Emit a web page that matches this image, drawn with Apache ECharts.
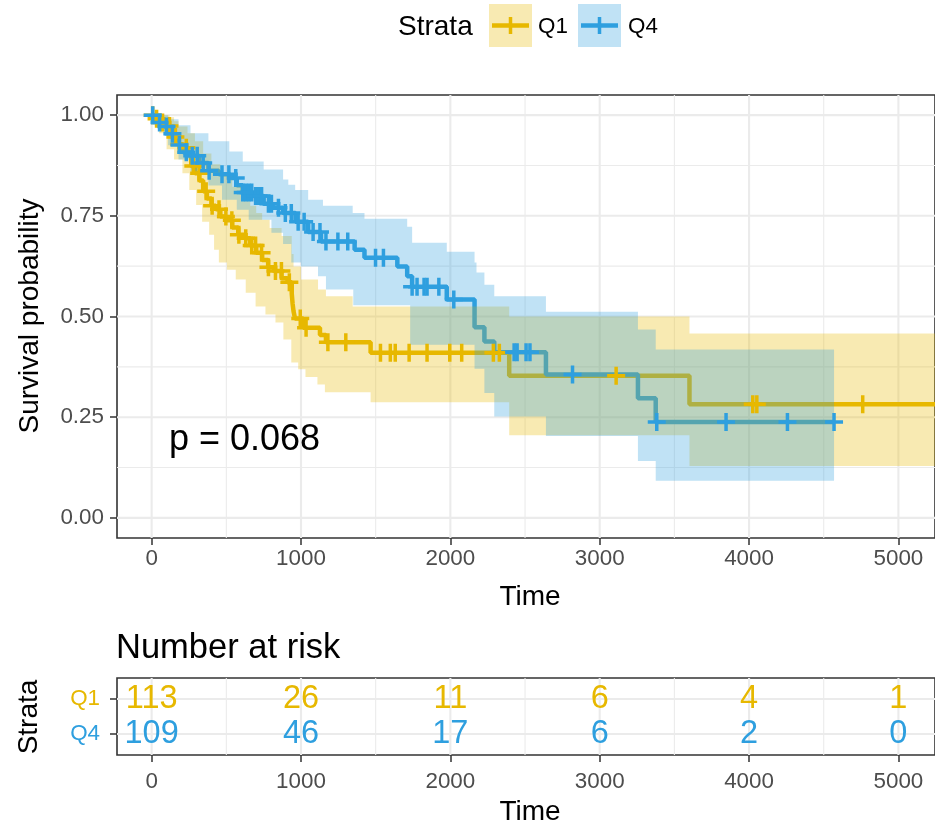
<!DOCTYPE html>
<html>
<head>
<meta charset="utf-8">
<script src="https://cdn.jsdelivr.net/npm/echarts@6/dist/echarts.min.js"></script>
<style>
  html, body { margin: 0; padding: 0; background: #ffffff; }
  #chart { width: 935px; height: 827px; }
</style>
</head>
<body>
<div id="chart"></div>
<script>
// ---- data ---------------------------------------------------------------
const strata = ['Q1', 'Q4'];

// Kaplan-Meier estimate, [time, survival] at each step
const q1Surv = [[0,1.000],[30,0.991],[60,0.982],[90,0.973],[120,0.964],[150,0.946],[180,0.928],[210,0.919],
  [240,0.901],[265,0.874],[290,0.856],[320,0.838],[345,0.811],[370,0.793],[400,0.775],[430,0.766],[460,0.748],
  [500,0.739],[540,0.721],[580,0.703],[620,0.694],[660,0.676],[700,0.658],[740,0.640],[780,0.622],[820,0.613],
  [870,0.595],[910,0.585],[938,0.557],[944,0.531],[950,0.513],[960,0.495],[1015,0.472],[1127,0.454],
  [1167,0.436],[1466,0.410],[2394,0.353],[3601,0.282]];
const q1Upper = [[0,1.000],[120,0.995],[150,0.985],[180,0.972],[240,0.955],[290,0.935],[345,0.905],[400,0.878],
  [460,0.852],[540,0.822],[620,0.795],[660,0.775],[700,0.757],[740,0.740],[790,0.720],[870,0.700],[938,0.655],
  [950,0.624],[1000,0.592],[1114,0.567],[1167,0.550],[1346,0.525],[2394,0.500],[3601,0.458]];
const q1Lower = [[0,1.000],[10,0.985],[50,0.955],[100,0.915],[150,0.890],[206,0.856],[252,0.814],[298,0.777],
  [338,0.735],[385,0.703],[418,0.666],[450,0.634],[504,0.616],[563,0.592],[630,0.559],[696,0.525],[762,0.505],
  [829,0.485],[882,0.443],[935,0.386],[981,0.369],[1030,0.350],[1110,0.331],[1160,0.312],[1466,0.287],
  [2394,0.205],[3601,0.129]];
const q1Censor = [7,33,73,119,159,186,232,279,318,365,405,451,497,537,584,630,670,696,736,782,829,869,922,
  995,1034,1180,1300,1532,1598,1631,1724,1844,1996,2076,2288,2328,3110,4025,4052,4761];
const q1End = 5300;

const q4Surv = [[0,1.000],[20,0.991],[50,0.982],[80,0.972],[110,0.954],[150,0.945],[180,0.926],[210,0.908],
  [260,0.899],[318,0.881],[380,0.862],[450,0.853],[520,0.844],[570,0.826],[610,0.808],[680,0.799],[750,0.780],
  [810,0.770],[880,0.757],[963,0.735],[1048,0.710],[1134,0.686],[1359,0.666],[1425,0.646],[1645,0.624],
  [1711,0.600],[1744,0.574],[1976,0.542],[2162,0.473],[2228,0.438],[2294,0.411],[2640,0.356],[3256,0.297],
  [3375,0.238]];
const q4Upper = [[0,1.000],[110,0.990],[180,0.975],[260,0.955],[380,0.935],[520,0.910],[610,0.885],[750,0.865],
  [880,0.840],[915,0.827],[961,0.814],[1048,0.790],[1147,0.775],[1346,0.757],[1425,0.743],[1711,0.723],
  [1744,0.683],[1976,0.661],[2162,0.634],[2175,0.609],[2228,0.579],[2294,0.550],[2640,0.512],[3256,0.468],
  [3375,0.418]];
const q4Lower = [[0,1.000],[20,0.975],[80,0.950],[110,0.925],[180,0.890],[260,0.860],[380,0.825],[471,0.790],
  [570,0.765],[650,0.740],[802,0.708],[880,0.680],[935,0.634],[1000,0.624],[1114,0.600],[1167,0.567],
  [1350,0.528],[1731,0.430],[2162,0.370],[2228,0.310],[2294,0.252],[2640,0.203],[3256,0.141],[3375,0.092]];
const q4Censor = [7,53,99,139,186,232,272,305,345,385,471,517,563,610,630,650,670,696,716,736,782,802,849,
  895,935,981,1021,1081,1127,1167,1247,1313,1499,1552,1744,1777,1824,1844,1923,2023,2427,2447,2507,2533,
  2818,3382,3846,4257,4569];
const q4End = 4569;

const pValueText = 'p = 0.068';

// axis ticks
const xTicks = [0, 1000, 2000, 3000, 4000, 5000];
const xMinorTicks = [500, 1500, 2500, 3500, 4500];
const yTicks = [0, 0.25, 0.5, 0.75, 1];
const yMinorTicks = [0.125, 0.375, 0.625, 0.875];

// number at risk table
const riskTimes = [0, 1000, 2000, 3000, 4000, 5000];
const riskQ1 = [113, 26, 11, 6, 4, 1];
const riskQ4 = [109, 46, 17, 6, 2, 0];

// ---- styling ------------------------------------------------------------
const FONT = "'Liberation Sans', Arial, Helvetica, sans-serif";
const COLORS = { Q1: '#E7B800', Q4: '#2E9FDF' };
const BAND = { Q1: 'rgba(231,184,0,0.3)', Q4: 'rgba(46,159,223,0.3)' };
const X_RANGE = [-232, 5245];
const Y_RANGE = [-0.05, 1.05];
const RISK_Y_RANGE = [0.4, 2.6];
const RISK_ROW = { Q1: 2, Q4: 1 };
const PLUS = 'path://M7.25,0H10.75V7.25H18V10.75H10.75V18H7.25V10.75H0V7.25H7.25Z';

function survAt(steps, t) {
  let v = steps[0][1];
  for (const s of steps) { if (s[0] <= t) v = s[1]; else break; }
  return v;
}

function stairs(steps, end) {
  const pts = [];
  steps.forEach((s, i) => {
    const next = i + 1 < steps.length ? steps[i + 1][0] : end;
    pts.push([s[0], s[1]], [next, s[1]]);
  });
  return pts;
}

function gridLines(gridIndex, vMajor, vMinor, hMajor, hMinor, yRange) {
  const lines = [];
  vMinor.forEach(v => lines.push({ dir: 'v', v, w: 1.1 }));
  hMinor.forEach(v => lines.push({ dir: 'h', v, w: 1.1 }));
  vMajor.forEach(v => lines.push({ dir: 'v', v, w: 2.1 }));
  hMajor.forEach(v => lines.push({ dir: 'h', v, w: 2.1 }));
  return {
    type: 'custom', xAxisIndex: gridIndex, yAxisIndex: gridIndex, z: 1, silent: true,
    data: lines.map(() => [0, 1]),
    renderItem(params, api) {
      const l = lines[params.dataIndex];
      const a = l.dir === 'v' ? api.coord([l.v, yRange[0]]) : api.coord([X_RANGE[0], l.v]);
      const b = l.dir === 'v' ? api.coord([l.v, yRange[1]]) : api.coord([X_RANGE[1], l.v]);
      return { type: 'line', shape: { x1: a[0], y1: a[1], x2: b[0], y2: b[1] },
        style: { stroke: '#EBEBEB', lineWidth: l.w } };
    }
  };
}

function bandSeries(name, upper, lower, end, z) {
  const outline = stairs(upper, end).concat(stairs(lower, end).reverse());
  return {
    type: 'custom', name, xAxisIndex: 0, yAxisIndex: 0, z, silent: true,
    data: [[0, 1]],
    renderItem(params, api) {
      return { type: 'polygon', shape: { points: outline.map(p => api.coord(p)) },
        style: { fill: BAND[name] } };
    }
  };
}

function curveSeries(name, steps, end) {
  return {
    type: 'line', name, step: 'end', xAxisIndex: 0, yAxisIndex: 0, z: 2, silent: true,
    symbol: 'none', data: steps.concat([[end, steps[steps.length - 1][1]]]),
    lineStyle: { color: COLORS[name], width: 4.5 }
  };
}

function censorSeries(name, steps, times) {
  return {
    type: 'scatter', name, xAxisIndex: 0, yAxisIndex: 0, z: 5, silent: true,
    symbol: PLUS, symbolSize: 18, symbolKeepAspect: true,
    data: times.map(t => [t, survAt(steps, t)]),
    itemStyle: { color: COLORS[name], opacity: 1 }
  };
}

function riskSeries(name, counts) {
  return {
    type: 'custom', name, xAxisIndex: 1, yAxisIndex: 1, z: 5, silent: true,
    data: riskTimes.map(t => [t, RISK_ROW[name]]),
    renderItem(params, api) {
      const p = api.coord([api.value(0), api.value(1)]);
      return { type: 'text', x: p[0], y: p[1],
        style: { text: String(counts[params.dataIndex]), fill: COLORS[name], fontSize: 32.5,
          fontFamily: FONT, align: 'center', verticalAlign: 'middle' } };
    }
  };
}

const TICK_STYLE = { color: '#333333', width: 1.5 };

function timeAxis(gridIndex, margin) {
  return {
    type: 'value', gridIndex, min: X_RANGE[0], max: X_RANGE[1],
    axisLine: { show: false, onZero: false },
    axisTick: { show: true, customValues: xTicks, length: 7, lineStyle: TICK_STYLE },
    axisLabel: { customValues: xTicks, color: '#4D4D4D', fontSize: 22.4, fontFamily: FONT, margin,
      formatter: v => String(v) },
    splitLine: { show: false }
  };
}

function text(x, y, str, size, opts) {
  return Object.assign({ type: 'text', x, y, z: 10, silent: true,
    style: Object.assign({ text: str, fontSize: size, fontFamily: FONT, fill: '#000000',
      align: 'left', verticalAlign: 'middle' }, (opts && opts.style) || {}) },
    opts && opts.rotation != null ? { rotation: opts.rotation } : {});
}

function legendKey(x, name) {
  return {
    type: 'group', x, y: 4, silent: true,
    children: [
      { type: 'rect', shape: { x: 0, y: 0, width: 43, height: 43 }, style: { fill: BAND[name] } },
      { type: 'line', shape: { x1: 3, y1: 21.5, x2: 40, y2: 21.5 }, style: { stroke: COLORS[name], lineWidth: 4.5 } },
      { type: 'line', shape: { x1: 21.5, y1: 13, x2: 21.5, y2: 30 }, style: { stroke: COLORS[name], lineWidth: 3.5 } }
    ]
  };
}

const chart = echarts.init(document.getElementById('chart'), null, { renderer: 'canvas' });

chart.setOption({
  animation: false,
  backgroundColor: '#ffffff',
  grid: [
    { left: 117, top: 95, width: 826, height: 443, show: true, borderColor: '#333333', borderWidth: 1.6,
      backgroundColor: 'transparent' },
    { left: 117, top: 678, width: 826, height: 77, show: true, borderColor: '#333333', borderWidth: 1.6,
      backgroundColor: 'transparent' }
  ],
  xAxis: [timeAxis(0, 10), timeAxis(1, 16)],
  yAxis: [
    {
      type: 'value', gridIndex: 0, min: Y_RANGE[0], max: Y_RANGE[1],
      axisLine: { show: false, onZero: false },
      axisTick: { show: true, customValues: yTicks, length: 7, lineStyle: TICK_STYLE },
      axisLabel: { customValues: yTicks, color: '#4D4D4D', fontSize: 22.4, fontFamily: FONT, margin: 13,
        formatter: v => v.toFixed(2) },
      splitLine: { show: false }
    },
    {
      type: 'value', gridIndex: 1, min: RISK_Y_RANGE[0], max: RISK_Y_RANGE[1],
      axisLine: { show: false, onZero: false },
      axisTick: { show: true, customValues: [RISK_ROW.Q4, RISK_ROW.Q1], length: 7, lineStyle: TICK_STYLE },
      axisLabel: { customValues: [RISK_ROW.Q4, RISK_ROW.Q1], margin: 17, fontFamily: FONT, fontSize: 22.4,
        formatter: v => strata.filter(s => RISK_ROW[s] === v).map(s => '{' + s + '|' + s + '}').join(''),
        rich: { Q1: { color: COLORS.Q1, fontSize: 22.4, fontFamily: FONT },
                Q4: { color: COLORS.Q4, fontSize: 22.4, fontFamily: FONT } } },
      splitLine: { show: false }
    }
  ],
  series: [
    gridLines(0, xTicks, xMinorTicks, yTicks, yMinorTicks, Y_RANGE),
    gridLines(1, xTicks, xMinorTicks, [RISK_ROW.Q4, RISK_ROW.Q1], [], RISK_Y_RANGE),
    curveSeries('Q1', q1Surv, q1End),
    curveSeries('Q4', q4Surv, q4End),
    bandSeries('Q1', q1Upper, q1Lower, q1End, 3),
    bandSeries('Q4', q4Upper, q4Lower, q4End, 4),
    censorSeries('Q1', q1Surv, q1Censor),
    censorSeries('Q4', q4Surv, q4Censor),
    riskSeries('Q1', riskQ1),
    riskSeries('Q4', riskQ4)
  ],
  graphic: [
    text(398, 27, 'Strata', 28),
    legendKey(489, 'Q1'),
    text(538, 27, 'Q1', 22.4),
    legendKey(578, 'Q4'),
    text(628, 27, 'Q4', 22.4),
    text(169, 440, pValueText, 36),
    text(30, 316, 'Survival probability', 28, { rotation: Math.PI / 2, style: { align: 'center' } }),
    text(530, 597, 'Time', 28, { style: { align: 'center' } }),
    text(116, 648, 'Number at risk', 34.5),
    text(29, 717, 'Strata', 28, { rotation: Math.PI / 2, style: { align: 'center' } }),
    text(530, 812, 'Time', 28, { style: { align: 'center' } })
  ]
});
</script>
</body>
</html>
